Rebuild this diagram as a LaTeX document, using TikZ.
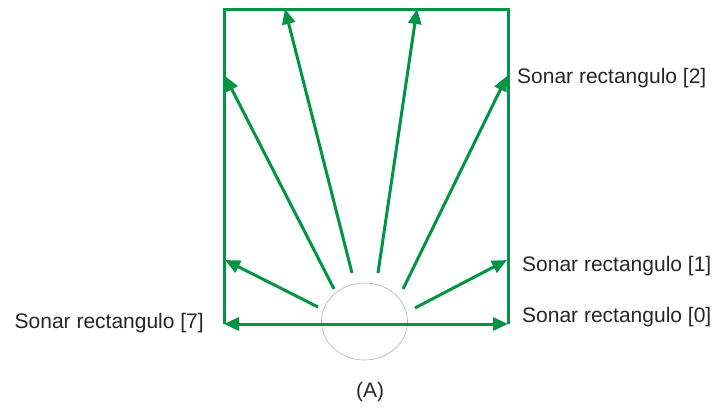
\documentclass[tikz,border=0pt]{standalone}
\usepackage{fontspec}
\setmainfont{Liberation Sans}
\usetikzlibrary{arrows.meta,shapes.geometric}
\definecolor{sgreen}{RGB}{0,148,68}
\begin{document}
\begin{tikzpicture}[x=1pt,y=-1pt,
  ray/.style={draw=sgreen,line width=3pt,-{Triangle[length=15pt,width=13pt]}},
  frame/.style={draw=sgreen,line width=3pt},
  lbl/.style={font=\fontsize{21}{24}\selectfont,text=black!85,inner sep=0pt}]
\useasboundingbox (0,0) rectangle (714,410);
% frame
\coordinate (tl) at (224,9);
\coordinate (tr) at (508,9);
\coordinate (bl) at (224,324);
\coordinate (br) at (508,324);
\draw[frame] (bl) -- (tl) -- (tr) -- (br);
% ellipse
\node[draw=black!30,line width=0.6pt,ellipse,minimum width=86pt,minimum height=77pt,inner sep=0pt] (sonar) at (364.5,321.5) {};
% bottom double arrow
\draw[ray,{Triangle[length=15pt,width=13pt]}-{Triangle[length=15pt,width=13pt]}] (bl) -- (br);
% rays
\coordinate (s1) at (318,307); \coordinate (e1) at (225,260);
\coordinate (s2) at (334,289); \coordinate (e2) at (225,76);
\coordinate (s3) at (352,273); \coordinate (e3) at (285,9);
\coordinate (s4) at (378,273); \coordinate (e4) at (417,9);
\coordinate (s5) at (403,289); \coordinate (e5) at (507,76);
\coordinate (s6) at (415,308); \coordinate (e6) at (507,260);
\foreach \i in {1,...,6} \draw[ray] (s\i) -- (e\i);
% labels
\node[lbl,anchor=west] (l2) at (517,78) {Sonar rectangulo [2]};
\node[lbl,anchor=west] (l1) at (522,266) {Sonar rectangulo [1]};
\node[lbl,anchor=west] (l0) at (522,317) {Sonar rectangulo [0]};
\node[lbl,anchor=east] (l7) at (204,323) {Sonar rectangulo [7]};
\node[lbl] (a) at (370,392) {(A)};
\end{tikzpicture}
\end{document}
